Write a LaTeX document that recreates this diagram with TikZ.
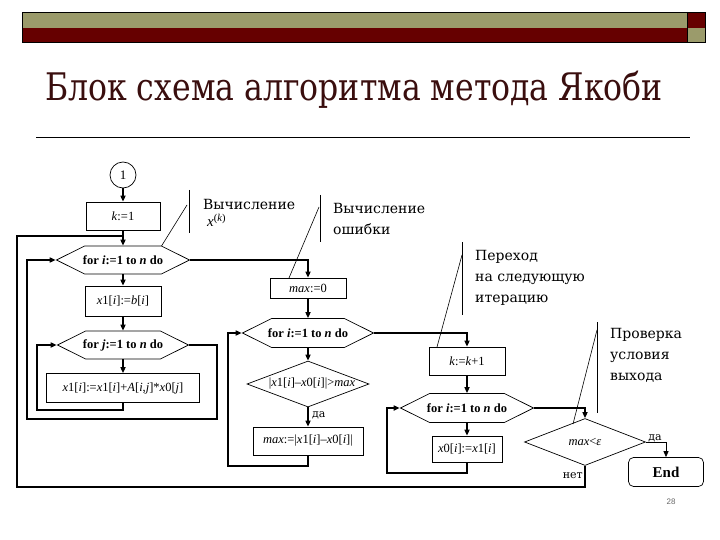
\documentclass[tikz,border=0pt]{standalone}
\usepackage{fontspec}
\setmainfont{Liberation Serif}
\newfontfamily\cyrserif{DejaVu Serif}
\newfontfamily\pagesans{Liberation Sans}
\usetikzlibrary{shapes.geometric,shapes.symbols,arrows.meta}
\definecolor{barolive}{HTML}{9B9B6B}
\definecolor{barred}{HTML}{660000}
\definecolor{titlecol}{HTML}{3A0E0E}
\newcommand\vi[1]{\textit{#1}}
\begin{document}
\begin{tikzpicture}[x=1pt,y=-1pt,
  boxtext/.style={font=\fontsize{12.5}{15}\selectfont},
  box/.style={draw, line width=0.7pt, rectangle, inner sep=0pt, boxtext},
  hexa/.style={draw, line width=0.7pt, signal, signal to=west and east, signal pointer angle=53, inner sep=0pt},
  dia/.style={draw, line width=0.7pt, diamond, inner sep=0pt},
  inner/.style={boxtext, inner sep=0pt},
  circ/.style={draw, line width=0.7pt, circle, minimum size=26pt, inner sep=0pt, font=\fontsize{13}{15}\selectfont},
  conn/.style={line width=1.5pt},
  arr/.style={line width=1.5pt, -{Triangle[length=6pt,width=5pt]}},
  lead/.style={line width=0.6pt},
  calltext/.style={font=\cyrserif\fontsize{14}{21}\selectfont, anchor=north west, align=left, inner sep=0pt},
  smalltext/.style={font=\cyrserif\fontsize{11}{13}\selectfont, inner sep=0pt}
]
\useasboundingbox (0,0) rectangle (720,540);
% top bar
\fill[barolive] (22,12) rectangle (687,28);
\fill[barred] (22,28) rectangle (687,42);
\fill[barred] (687,12) rectangle (705,28);
\fill[barolive] (687,28) rectangle (705,42);
\draw[line width=0.7pt] (22,12) rectangle (705,42);
\draw[line width=0.5pt] (687,12) -- (687,42);
% title
\node[font=\cyrserif\fontsize{38}{44}\selectfont, text=titlecol, inner sep=0pt] (title) at (354,90) {\scalebox{0.83}[1]{Блок схема алгоритма метода Якоби}};
\draw[line width=0.8pt] (36,137) -- (690,137);
\node[font=\pagesans\fontsize{8}{9}\selectfont, text=black!60, inner sep=0pt] (pg) at (671,502) {28};

% column 1
\node[circ] (c1) at (123,175) {1};
\node[box, minimum width=74pt, minimum height=28pt] (k1) at (123,216) {\vi{k}:=1};
\node[hexa, minimum width=133pt, minimum height=28pt] (hexI) at (123,260) {};
\node[inner] (hexIt) at (hexI.center) {\bfseries for \vi{i}:=1 to \vi{n} do};
\node[box, minimum width=76pt, minimum height=30pt] (bb) at (123,301) {\vi{x}1[\vi{i}]:=\vi{b}[\vi{i}]};
\node[hexa, minimum width=131pt, minimum height=28pt] (hexJ) at (123,345) {};
\node[inner] (hexJt) at (hexJ.center) {\bfseries for \vi{j}:=1 to \vi{n} do};
\node[box, minimum width=153pt, minimum height=29pt] (sum) at (123,388) {\vi{x}1[\vi{i}]:=\vi{x}1[\vi{i}]+\vi{A}[\vi{i},\vi{j}]*\vi{x}0[\vi{j}]};

% column 2
\node[box, minimum width=76pt, minimum height=20pt] (m0) at (308,288) {\vi{max}:=0};
\node[hexa, minimum width=131pt, minimum height=29pt] (hexI2) at (308,333) {};
\node[inner] (hexI2t) at (hexI2.center) {\bfseries for \vi{i}:=1 to \vi{n} do};
\node[dia, minimum width=122pt, minimum height=46pt] (d1) at (308,384) {};
\node[inner] (d1t) at (312,384) {|\vi{x}1[\vi{i}]–\vi{x}0[\vi{i}]|>\vi{max}};
\node[box, minimum width=110pt, minimum height=28pt] (mx) at (308,441) {\vi{max}:=|\vi{x}1[\vi{i}]–\vi{x}0[\vi{i}]|};
\node[smalltext, anchor=west] (da1) at (312,415) {да};

% column 3
\node[box, minimum width=76pt, minimum height=28pt] (kk) at (467,361) {\vi{k}:=\vi{k}+1};
\node[hexa, minimum width=133pt, minimum height=29pt] (hexI3) at (467,408) {};
\node[inner] (hexI3t) at (hexI3.center) {\bfseries for \vi{i}:=1 to \vi{n} do};
\node[box, minimum width=70pt, minimum height=26pt] (x0) at (467,449) {\vi{x}0[\vi{i}]:=\vi{x}1[\vi{i}]};

% column 4
\node[dia, minimum width=121pt, minimum height=47pt] (d2) at (585,442) {};
\node[inner] (d2t) at (585,442) {\vi{max}<\vi{ε}};
\node[box, rounded corners=5pt, minimum width=75pt, minimum height=29pt, font=\fontsize{15}{17}\selectfont\bfseries] (end) at (666,472) {End};
\node[smalltext, anchor=south] (da2) at (655,442) {да};
\node[smalltext, anchor=east] (net) at (583,476) {нет};

% connectors column 1
\draw[arr] (c1) -- (k1);
\draw[arr] (k1) -- (hexI);
\draw[arr] (hexI) -- (bb);
\draw[arr] (bb) -- (hexJ);
\draw[arr] (hexJ) -- (sum);
\draw[arr] (sum.south) -- (123,410) -- (37,410) -- (37,345) -- (hexJ.west);
\draw[arr] (hexJ.east) -- (217,345) -- (217,419) -- (27,419) -- (27,260) -- (hexI.west);
% column 2
\draw[arr] (hexI.east) -- (308,260) -- (m0.north);
\draw[arr] (m0) -- (hexI2);
\draw[arr] (hexI2) -- (d1);
\draw[arr] (d1) -- (mx);
\draw[arr] (mx.south) -- (308,466) -- (228,466) -- (228,333) -- (hexI2.west);
% column 3
\draw[arr] (hexI2.east) -- (467,333) -- (kk.north);
\draw[arr] (kk) -- (hexI3);
\draw[arr] (hexI3) -- (x0);
\draw[arr] (x0.south) -- (467,473) -- (387,473) -- (387,408) -- (hexI3.west);
% column 4
\draw[arr] (hexI3.east) -- (585,408) -- (d2.north);
\draw[line width=0.8pt, -{Triangle[length=6pt,width=5pt]}] (d2.east) -- (666,442) -- (end.north);
\draw[conn] (d2.south) -- (585,487) -- (17,487) -- (17,236) -- (123,236);

% callouts
\draw[lead] (189,190) -- (189,233);
\draw[lead] (161.5,246) -- (187,205);
\node[calltext] (t1) at (203,199) {Вычисление\\[-4pt]\hspace*{4pt}{\rmfamily\fontsize{15}{18}\selectfont\vi{x}\textsuperscript{(\vi{k})}}};
\draw[lead] (320,195) -- (320,242);
\draw[lead] (289,278) -- (319,207);
\node[calltext] (t2) at (333,203) {Вычисление\\ошибки};
\draw[lead] (462,242) -- (462,315);
\draw[lead] (437,347) -- (462,255);
\node[calltext] (t3) at (475,250) {Переход\\на следующую\\итерацию};
\draw[lead] (597,322) -- (597,413);
\draw[lead] (573,424) -- (597,330);
\node[calltext] (t4) at (610,328) {Проверка\\условия\\выхода};
\end{tikzpicture}
\end{document}
